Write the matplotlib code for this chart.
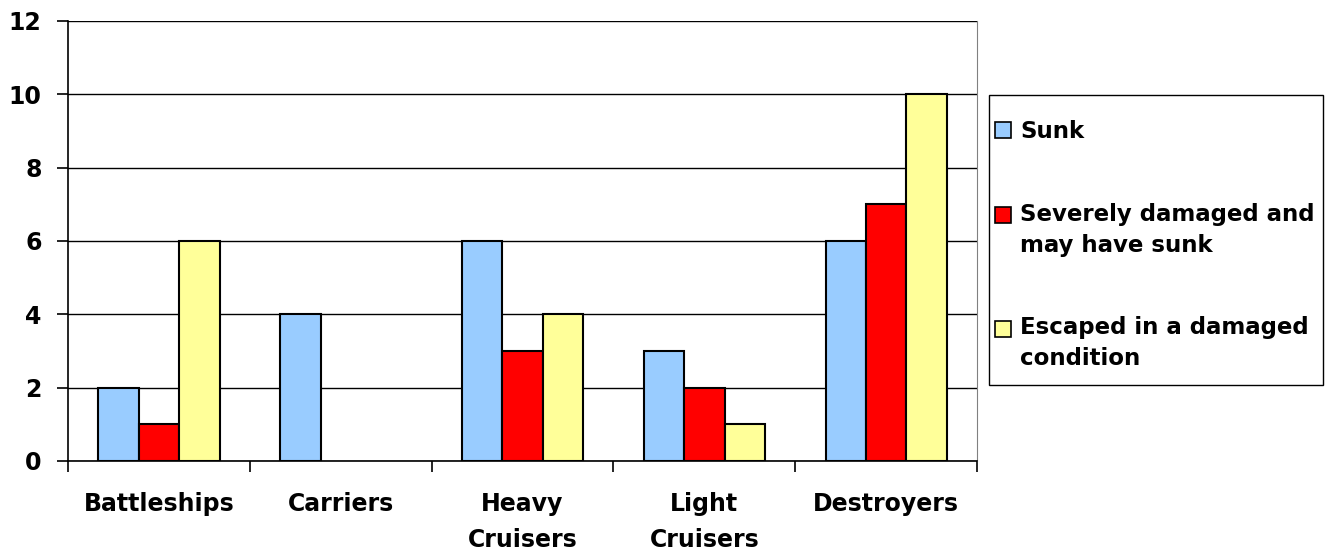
import numpy as np
import matplotlib.pyplot as plt
from matplotlib.patches import Patch, Rectangle
from matplotlib.legend_handler import HandlerPatch

# data
categories = ['Battleships', 'Carriers', 'Heavy\nCruisers', 'Light\nCruisers', 'Destroyers']
sunk = [2, 4, 6, 3, 6]
severe = [1, 0, 3, 2, 7]
escaped = [6, 0, 4, 1, 10]
series_names = ['Sunk', 'Severely damaged and\nmay have sunk', 'Escaped in a damaged\ncondition']
colors = ['#99CCFF', '#FF0000', '#FFFF99']

plt.rcParams['font.family'] = 'DejaVu Sans'
plt.rcParams['font.weight'] = 'bold'

fig = plt.figure(figsize=(13.27, 5.5), dpi=100)
ax = fig.add_axes([68/1327, 1 - 461/550, (977 - 68)/1327, 440/550])

x = np.arange(len(categories))
w = 1/4.5
for i, vals in enumerate([sunk, severe, escaped]):
    edges = ['black' if v > 0 else 'none' for v in vals]
    ax.bar(x + (i - 1)*w, vals, width=w, color=colors[i], edgecolor=edges,
           linewidth=1.5, zorder=3)

ax.set_xlim(-0.5, len(categories) - 0.5)
ax.set_ylim(0, 12)
ax.set_yticks(np.arange(0, 13, 2))
ax.set_xticks(x)
ax.set_xticklabels(categories, fontsize=17, fontweight='bold', linespacing=1.65)
ax.set_xticks(np.arange(-0.5, len(categories), 1), minor=True)
ax.tick_params(axis='x', which='major', length=0, pad=22)
ax.tick_params(axis='x', which='minor', length=8, width=1.2, direction='out')
ax.tick_params(axis='y', length=8, width=1.2, direction='out', pad=11, labelsize=17)
for lab in ax.get_yticklabels():
    lab.set_fontweight('bold')

ax.yaxis.grid(True, color='black', linewidth=1, zorder=0)
ax.spines['top'].set_visible(False)
ax.spines['right'].set_color('#808080')
ax.spines['left'].set_linewidth(1.2)
ax.spines['bottom'].set_linewidth(1.2)

# legend box
fig.patches.append(Rectangle((989/1327, 1 - 385/550), (1323 - 989)/1327, 290/550,
                             transform=fig.transFigure, facecolor='white',
                             edgecolor='black', linewidth=1, zorder=0))


def shifted(dy):
    # put the square next to the first line of a two-line label
    def make(legend, orig_handle, xdescent, ydescent, width, height, fontsize):
        return Rectangle((-xdescent, -ydescent + dy), width, height)
    return HandlerPatch(patch_func=make)


handles = [Patch(facecolor=c, edgecolor='black', linewidth=1.2) for c in colors]
hmap = {h: shifted(0 if '\n' not in name else 11) for h, name in zip(handles, series_names)}
leg = fig.legend(handles, series_names, loc='upper left',
                 bbox_to_anchor=(995/1327, 1 - 120/550), borderaxespad=0,
                 prop={'weight': 'bold', 'size': 16.5}, frameon=False,
                 labelspacing=2.6, handlelength=0.7, handleheight=0.7,
                 handletextpad=0.4, borderpad=0, handler_map=hmap)
for t in leg.get_texts():
    t.set_linespacing(1.45)

fig.savefig('out.png', dpi=100)
